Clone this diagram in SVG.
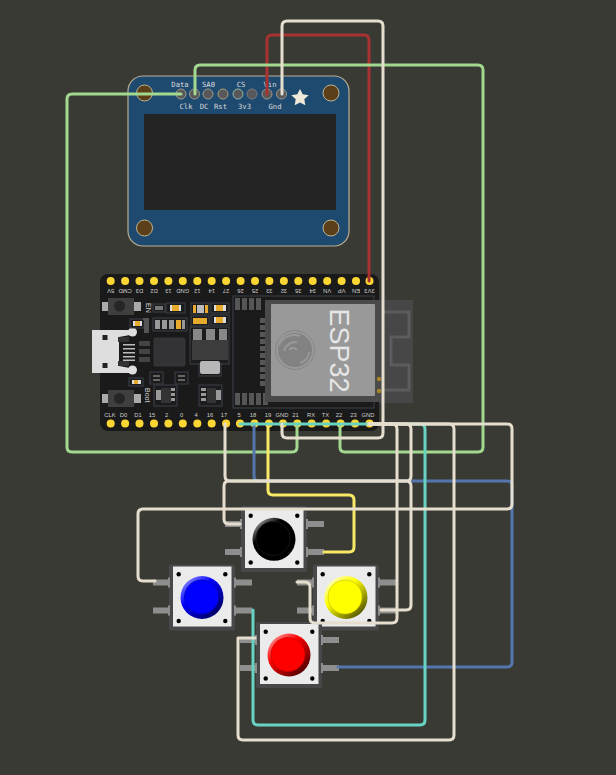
<svg xmlns="http://www.w3.org/2000/svg" width="616" height="775" viewBox="0 0 616 775">
<style>
.w{fill:none;stroke-width:3;stroke-linecap:round;stroke-linejoin:round}
.iv{stroke:#e5dece}.gr{stroke:#a2d98f}.rd{stroke:#a83232}.bl{stroke:#5476ad}.cy{stroke:#69d3c3}.ye{stroke:#f7e866}
.ot{font:7.2px "DejaVu Sans Mono",monospace;fill:#dcdcdc;text-anchor:middle}
.op{fill:#58585a;stroke:#9a9a8c;stroke-width:1}
.hole{fill:#5a3f18;stroke:#bdb394;stroke-width:1}
.bp{font:5.800px "Liberation Sans",Arial,sans-serif;fill:#cfcfcf;text-anchor:middle}
.pin{fill:#fcd734}
.cmp{fill:#1c1c1c;stroke:#3b4148;stroke-width:1}
.pad{fill:#565656}
.tab{fill:#8e8e8e}
.bo{fill:#48484a}
.bw{fill:#ebebeb}
.dot{fill:#000}
</style>
<defs>
<linearGradient id="gk" x1="0.15" y1="0.1" x2="0.85" y2="0.9"><stop offset="0" stop-color="#888"/><stop offset=".28" stop-color="#000"/><stop offset="1" stop-color="#000"/></linearGradient>
<linearGradient id="gb" x1="0.15" y1="0.1" x2="0.85" y2="0.9"><stop offset="0" stop-color="#7a7aff"/><stop offset=".35" stop-color="#0000ff"/><stop offset="1" stop-color="#000060"/></linearGradient>
<linearGradient id="gy" x1="0.15" y1="0.1" x2="0.85" y2="0.9"><stop offset="0" stop-color="#ffffaa"/><stop offset=".35" stop-color="#ffff00"/><stop offset="1" stop-color="#555500"/></linearGradient>
<linearGradient id="gr" x1="0.15" y1="0.1" x2="0.85" y2="0.9"><stop offset="0" stop-color="#ff8080"/><stop offset=".35" stop-color="#ff0000"/><stop offset="1" stop-color="#500000"/></linearGradient>
<g id="btn">
<rect x="-33" y="-33" width="66" height="66" class="bo" rx="2"/>
<rect x="-49" y="-18" width="16" height="6" class="tab"/><rect x="-49" y="10" width="16" height="6" class="tab"/>
<rect x="33" y="-18" width="17" height="6" class="tab"/><rect x="33" y="10" width="17" height="6" class="tab"/>
<rect x="-34" y="-20" width="2" height="10" class="tab"/><rect x="-34" y="8" width="2" height="10" class="tab"/>
<rect x="32" y="-20" width="2" height="10" class="tab"/><rect x="32" y="8" width="2" height="10" class="tab"/>
<rect x="-29" y="-31" width="58.500" height="60" class="bw"/>
<circle cx="-23.300" cy="-23.300" r="2.200" class="dot"/><circle cx="23.300" cy="-23.300" r="2.200" class="dot"/>
<circle cx="-23.300" cy="23.500" r="2.200" class="dot"/><circle cx="23.300" cy="23.500" r="2.200" class="dot"/>
</g>
</defs>
<rect width="616" height="775" fill="#3a3a35"/>

<g id="oled">
<rect x="128" y="76" width="221" height="170" rx="15" fill="#1f4a70" stroke="#b9ae91" stroke-width="1.200"/>
<rect x="144" y="114" width="192" height="96" fill="#242424"/>
<circle class="hole" cx="144.500" cy="93" r="8"/><circle class="hole" cx="331" cy="93" r="8"/>
<circle class="hole" cx="144.500" cy="228" r="8"/><circle class="hole" cx="331" cy="228" r="8"/>
<circle class="op" cx="181" cy="94" r="5"/><circle class="op" cx="194.500" cy="94" r="5"/><circle class="op" cx="208" cy="94" r="5"/>
<circle class="op" cx="223" cy="94" r="5" style="stroke:#a8a078"/><circle class="op" cx="238" cy="94" r="5" style="stroke:#8fb8a8"/><circle class="op" cx="252" cy="94" r="5" style="stroke:#7a7a80"/>
<circle class="op" cx="267" cy="94" r="5"/><circle class="op" cx="281.500" cy="94" r="5"/>
<polygon points="300,89 302.700,94.300 308.600,95.200 304.300,99.300 305.300,105.200 300,102.400 294.700,105.200 295.700,99.300 291.400,95.200 297.300,94.300" fill="#efe9d8"/>
<text class="ot" x="180" y="87">Data</text><text class="ot" x="208.500" y="87">SA0</text><text class="ot" x="241" y="87">CS</text><text class="ot" x="270" y="87">Vin</text>
<text class="ot" x="186" y="109">Clk</text><text class="ot" x="204" y="109">DC</text><text class="ot" x="220.500" y="109">Rst</text><text class="ot" x="244.500" y="109">3v3</text><text class="ot" x="275" y="109">Gnd</text>
</g>

<g id="esp32">
<rect x="376" y="300" width="37" height="103" fill="#474747"/>
<path d="M382 312 H409 V337 H391 V365 H409 V390 H382" fill="none" stroke="#5c5c5c" stroke-width="3"/>
<rect x="100" y="274" width="279" height="157" rx="8" fill="#1a1a1a"/>
<g id="top-pins">
<circle class="pin" cx="110.700" cy="281" r="4"/><circle class="pin" cx="125.100" cy="281" r="4"/><circle class="pin" cx="139.500" cy="281" r="4"/><circle class="pin" cx="154" cy="281" r="4"/><circle class="pin" cx="168.400" cy="281" r="4"/><circle class="pin" cx="182.800" cy="281" r="4"/><circle class="pin" cx="197.300" cy="281" r="4"/><circle class="pin" cx="211.700" cy="281" r="4"/><circle class="pin" cx="226.100" cy="281" r="4"/><circle class="pin" cx="240.600" cy="281" r="4"/><circle class="pin" cx="255" cy="281" r="4"/><circle class="pin" cx="269.400" cy="281" r="4"/><circle class="pin" cx="283.900" cy="281" r="4"/><circle class="pin" cx="298.300" cy="281" r="4"/><circle class="pin" cx="312.700" cy="281" r="4"/><circle class="pin" cx="327.200" cy="281" r="4"/><circle class="pin" cx="341.600" cy="281" r="4"/><circle class="pin" cx="356" cy="281" r="4"/><circle class="pin" cx="369.500" cy="281" r="4"/>
</g>
<g id="bot-pins">
<circle class="pin" cx="110.700" cy="423.500" r="4"/><circle class="pin" cx="125.100" cy="423.500" r="4"/><circle class="pin" cx="139.500" cy="423.500" r="4"/><circle class="pin" cx="154" cy="423.500" r="4"/><circle class="pin" cx="168.400" cy="423.500" r="4"/><circle class="pin" cx="182.800" cy="423.500" r="4"/><circle class="pin" cx="197.300" cy="423.500" r="4"/><circle class="pin" cx="211.700" cy="423.500" r="4"/><circle class="pin" cx="226.100" cy="423.500" r="4"/><circle class="pin" cx="240" cy="423.500" r="4"/><circle class="pin" cx="254.500" cy="423.500" r="4"/><circle class="pin" cx="268.900" cy="423.500" r="4"/><circle class="pin" cx="283" cy="423.500" r="4"/><circle class="pin" cx="297.300" cy="423.500" r="4"/><circle class="pin" cx="311.700" cy="423.500" r="4"/><circle class="pin" cx="326.200" cy="423.500" r="4"/><circle class="pin" cx="340.600" cy="423.500" r="4"/><circle class="pin" cx="355" cy="423.500" r="4"/><circle class="pin" cx="369.500" cy="423.500" r="4"/>
</g>
<g id="top-labels">
<text class="bp" transform="translate(110.700,289) rotate(180)">5V</text><text class="bp" transform="translate(125.100,289) rotate(180)">CMD</text><text class="bp" transform="translate(139.500,289) rotate(180)">D3</text><text class="bp" transform="translate(154,289) rotate(180)">D2</text><text class="bp" transform="translate(168.400,289) rotate(180)">13</text><text class="bp" transform="translate(182.800,289) rotate(180)">GND</text><text class="bp" transform="translate(197.300,289) rotate(180)">12</text><text class="bp" transform="translate(211.700,289) rotate(180)">14</text><text class="bp" transform="translate(226.100,289) rotate(180)">27</text><text class="bp" transform="translate(240.600,289) rotate(180)">26</text><text class="bp" transform="translate(255,289) rotate(180)">25</text><text class="bp" transform="translate(269.400,289) rotate(180)">33</text><text class="bp" transform="translate(283.900,289) rotate(180)">32</text><text class="bp" transform="translate(298.300,289) rotate(180)">35</text><text class="bp" transform="translate(312.700,289) rotate(180)">34</text><text class="bp" transform="translate(327.200,289) rotate(180)">VN</text><text class="bp" transform="translate(341.600,289) rotate(180)">VP</text><text class="bp" transform="translate(356,289) rotate(180)">EN</text><text class="bp" transform="translate(369.500,289) rotate(180)">3V3</text>
</g>
<g id="bot-labels">
<text class="bp" x="110" y="417">CLK</text><text class="bp" x="123.500" y="417">D0</text><text class="bp" x="138" y="417">D1</text><text class="bp" x="152" y="417">15</text><text class="bp" x="166.500" y="417">2</text><text class="bp" x="181.500" y="417">0</text><text class="bp" x="196" y="417">4</text><text class="bp" x="210" y="417">16</text><text class="bp" x="224" y="417">17</text><text class="bp" x="239" y="417">5</text><text class="bp" x="253" y="417">18</text><text class="bp" x="268" y="417">19</text><text class="bp" x="282" y="417">GND</text><text class="bp" x="295.500" y="417">21</text><text class="bp" x="311" y="417">RX</text><text class="bp" x="325.500" y="417">TX</text><text class="bp" x="339" y="417">22</text><text class="bp" x="353.500" y="417">23</text><text class="bp" x="368" y="417">GND</text>
</g>
<g id="buttons-onboard">
<rect x="102" y="302" width="6" height="9" fill="#aaa"/><rect x="134" y="302" width="7" height="9" fill="#aaa"/><rect x="108" y="298" width="26" height="17" fill="#3f3f3f"/><circle cx="119.500" cy="306" r="5.500" fill="#262626"/>
<rect x="102" y="394" width="6" height="9" fill="#aaa"/><rect x="134" y="394" width="7" height="9" fill="#aaa"/><rect x="108" y="390" width="26" height="17" fill="#3f3f3f"/><circle cx="119.500" cy="398.500" r="5.500" fill="#262626"/>
<text class="bp" transform="translate(146,303) rotate(90)" style="font-size:7px;text-anchor:start">EN</text>
<text class="bp" transform="translate(145,388) rotate(90)" style="font-size:7px;text-anchor:start">Boot</text>
</g>
<g id="usb">
<rect x="92" y="330" width="27" height="43" fill="#dedede"/>
<path d="M119 330 H130 V335 L119 337 Z M119 373 H130 V368 L119 366 Z" fill="#dedede"/>
<rect x="118" y="337" width="11" height="5" fill="#333"/><rect x="118" y="361" width="11" height="5" fill="#333"/>
<rect x="102.500" y="335" width="5" height="5" fill="#222"/><rect x="102.500" y="363" width="5" height="5" fill="#222"/>
<circle cx="132.500" cy="332" r="4.500" fill="#dedede"/><circle cx="132.500" cy="370" r="4.500" fill="#dedede"/>
<rect x="123" y="344" width="12" height="1.500" fill="#bbb"/><rect x="123" y="348" width="12" height="1.500" fill="#bbb"/><rect x="123" y="352" width="12" height="1.500" fill="#bbb"/><rect x="123" y="356" width="12" height="1.500" fill="#bbb"/><rect x="123" y="359.500" width="12" height="1.500" fill="#bbb"/>
<rect x="139" y="341" width="11" height="5" fill="#444"/><rect x="139" y="349" width="11" height="5" fill="#444"/><rect x="139" y="357" width="11" height="5" fill="#444"/>
</g>
<g id="parts">
<rect x="154" y="338" width="31" height="28" rx="1" fill="#333336" stroke="#3f3f3f" stroke-dasharray="1.500 1"/>
<rect x="153" y="304" width="12" height="8" class="cmp"/><rect x="155" y="306" width="8" height="4" fill="#777"/>
<rect x="166" y="303" width="19" height="10" class="cmp"/><rect x="170" y="305" width="11" height="6" fill="#ddd"/><rect x="172" y="305" width="7" height="6" fill="#e8aa2c"/>
<rect x="130" y="319" width="14" height="9" class="cmp"/><rect x="133" y="321" width="9" height="5" fill="#ddd"/><rect x="135" y="321" width="5" height="5" fill="#e8aa2c"/>
<rect x="143" y="318" width="6" height="2" fill="#555"/><rect x="144" y="320" width="5" height="13" fill="#555"/>
<rect x="153" y="318" width="34" height="13" class="cmp"/>
<rect x="155" y="320" width="5" height="9" fill="#999"/><rect x="162" y="320" width="5" height="9" fill="#999"/><rect x="169" y="320" width="5" height="9" fill="#999"/><rect x="176" y="320" width="5" height="9" fill="#e8aa2c"/><rect x="182" y="320" width="3" height="9" fill="#999"/>
<rect x="191" y="303" width="18" height="11" class="cmp"/><rect x="193" y="305" width="3" height="8" fill="#e8aa2c"/><rect x="197" y="305" width="7" height="8" fill="#bbb"/><rect x="205" y="305" width="3" height="8" fill="#e8aa2c"/>
<rect x="191" y="316" width="18" height="10" class="cmp"/><rect x="193" y="318" width="14" height="6" fill="#e8aa2c"/>
<rect x="211" y="303" width="18" height="10" class="cmp"/><rect x="214" y="305" width="12" height="6" fill="#ddd"/><rect x="216" y="305" width="7" height="6" fill="#e8aa2c"/>
<rect x="211" y="315" width="18" height="10" class="cmp"/><rect x="214" y="317" width="12" height="6" fill="#ddd"/><rect x="216" y="317" width="7" height="6" fill="#e8aa2c"/>
<rect x="190" y="327" width="39" height="37" class="cmp"/>
<rect x="193" y="329" width="9" height="12" fill="#888"/><rect x="206" y="329" width="9" height="12" fill="#888"/><rect x="219" y="329" width="8" height="12" fill="#888"/>
<rect x="192" y="340" width="36" height="20" fill="#3c3c3c"/>
<rect x="199" y="364" width="22" height="12" class="cmp"/><rect x="200" y="361" width="20" height="13" rx="2" fill="#b8b8b8"/>
<rect x="150" y="372" width="13" height="12" class="cmp"/><rect x="153" y="375" width="7" height="2" fill="#666"/><rect x="153" y="379" width="7" height="2" fill="#666"/>
<rect x="175" y="372" width="13" height="12" class="cmp"/><rect x="178" y="375" width="7" height="2" fill="#666"/><rect x="178" y="379" width="7" height="2" fill="#666"/>
<rect x="129" y="378" width="14" height="8" class="cmp"/><rect x="132" y="380" width="9" height="4" fill="#ddd"/><rect x="134" y="380" width="4" height="4" fill="#e8aa2c"/>
<rect x="154" y="385" width="23" height="21" class="cmp"/><rect x="156" y="390" width="5" height="10" fill="#999"/><rect x="161" y="388" width="10" height="15" fill="#333"/><rect x="171" y="388" width="4" height="3" fill="#999"/><rect x="171" y="393" width="4" height="3" fill="#999"/><rect x="171" y="398" width="4" height="3" fill="#999"/>
<rect x="199" y="385" width="23" height="21" class="cmp"/><rect x="216" y="390" width="5" height="10" fill="#999"/><rect x="207" y="388" width="9" height="15" fill="#333"/><rect x="201" y="388" width="5" height="3" fill="#999"/><rect x="201" y="393" width="5" height="3" fill="#999"/><rect x="201" y="398" width="5" height="3" fill="#999"/>
</g>
<g id="module">
<rect x="233" y="296" width="141" height="112" fill="#1b1b1b" stroke="#3b4148"/>
<rect x="235" y="298" width="5" height="12" class="pad"/><rect x="242" y="298" width="5" height="12" class="pad"/><rect x="249" y="298" width="5" height="12" class="pad"/><rect x="256" y="298" width="5" height="12" class="pad"/>
<rect x="235" y="393" width="5" height="12" class="pad"/><rect x="242" y="393" width="5" height="12" class="pad"/><rect x="249" y="393" width="5" height="12" class="pad"/><rect x="256" y="393" width="5" height="12" class="pad"/><rect x="263" y="393" width="5" height="12" class="pad"/>
<rect x="260" y="318" width="5" height="5" class="pad"/><rect x="260" y="325" width="5" height="5" class="pad"/><rect x="260" y="332" width="5" height="5" class="pad"/><rect x="260" y="339" width="5" height="5" class="pad"/><rect x="260" y="346" width="5" height="5" class="pad"/><rect x="260" y="353" width="5" height="5" class="pad"/><rect x="260" y="360" width="5" height="5" class="pad"/><rect x="260" y="367" width="5" height="5" class="pad"/><rect x="260" y="374" width="5" height="5" class="pad"/><rect x="260" y="381" width="5" height="5" class="pad"/>
<rect x="265" y="300" width="115" height="102" fill="#4a4a4a"/>
<rect x="271" y="304" width="104" height="92" rx="1" fill="#999"/>
<circle cx="295" cy="350" r="17" fill="#828282"/>
<circle cx="295" cy="350" r="19.500" fill="none" stroke="#828282" stroke-width=".8"/>
<path d="M279 345 A17 17 0 0 1 300 336 M284 351 A12 12 0 0 1 297 342 M289 350 A5 5 0 0 1 297 350 M300 363 A13 13 0 0 0 309 352" fill="none" stroke="#999" stroke-width="2"/>
<text transform="translate(330,308.500) rotate(90)" font-family="Liberation Sans,Arial,sans-serif" font-size="27" fill="#e6e6e6">ESP32</text>
<circle cx="379" cy="379" r="2.200" fill="#a8862a"/><circle cx="379" cy="391" r="2.200" fill="#a8862a"/>
</g>
</g>

<g id="btn-black"><use href="#btn" x="274" y="539"/><circle cx="274" cy="539.300" r="21.500" fill="url(#gk)"/><circle cx="273" cy="538.500" r="17" fill="#000" stroke="#222" stroke-width=".6"/></g>
<g id="btn-blue"><use href="#btn" x="202" y="597.500"/><circle cx="202" cy="597.500" r="21.500" fill="url(#gb)"/><circle cx="201.500" cy="597" r="17" fill="#0000ff" stroke="#0000b0" stroke-width=".6"/></g>
<g id="btn-yellow"><use href="#btn" x="346" y="597.500"/><circle cx="346" cy="597.500" r="21.500" fill="url(#gy)"/><circle cx="345" cy="597" r="17" fill="#ffff00" stroke="#c0c000" stroke-width=".6"/></g>
<g id="btn-red"><use href="#btn" x="289" y="655"/><circle cx="289" cy="655" r="21.500" fill="url(#gr)"/><circle cx="288" cy="654.500" r="17" fill="#ff0000" stroke="#c00000" stroke-width=".6"/></g>

<g id="connectors">
<path class="w rd" d="M267 94 V40 Q267 35 272 35 H364 Q369 35 369 40 V281"/>
<path class="w gr" d="M181 94 H72 Q67 94 67 99 V447 Q67 452 72 452 H292 Q297 452 297 447 V424"/>
<path class="w gr" d="M195 94 V70 Q195 65 200 65 H478 Q483 65 483 70 V447 Q483 452 478 452 H345 Q340 452 340 447 V424"/>
<path class="w bl" d="M254 424 V476 Q254 481 259 481 H507 Q512 481 512 486 V662 Q512 667 507 667 H338"/>
<path class="w ye" d="M268 424 V490 Q268 495 273 495 H349 Q354 495 354 500 V547 Q354 552 349 552 H324"/>
<path class="w cy" d="M240 424 H420 Q425 424 425 429 V720 Q425 725 420 725 H258 Q253 725 253 720 V610"/>
<path class="w iv" d="M282 424 V433 Q282 438 287 438 H378 Q383 438 383 433 V26 Q383 21 378 21 H287 Q282 21 282 26 V94"/>
<path class="w iv" d="M369 424 H507 Q512 424 512 429 V504 Q512 509 507 509 H143 Q138 509 138 514 V576 Q138 581 143 581 H155"/>
<path class="w iv" d="M225 424 V476 Q225 481 230 481 H406 Q411 481 411 476 V429 Q411 424 406 424 H369"/>
<path class="w iv" d="M240 524 H229 Q224 524 224 519 V486 Q224 481 229 481 H406 Q411 481 411 486 V605 Q411 610 406 610 H381"/>
<path class="w iv" d="M369 424 H392 Q397 424 397 429 V618 Q397 623 392 623 H315 Q310 623 310 618 V587 Q310 582 305 582 H297"/>
<path class="w iv" d="M369 424 H449 Q454 424 454 429 V735 Q454 740 449 740 H243 Q238 740 238 735 V638 H255"/>
</g>
</svg>
